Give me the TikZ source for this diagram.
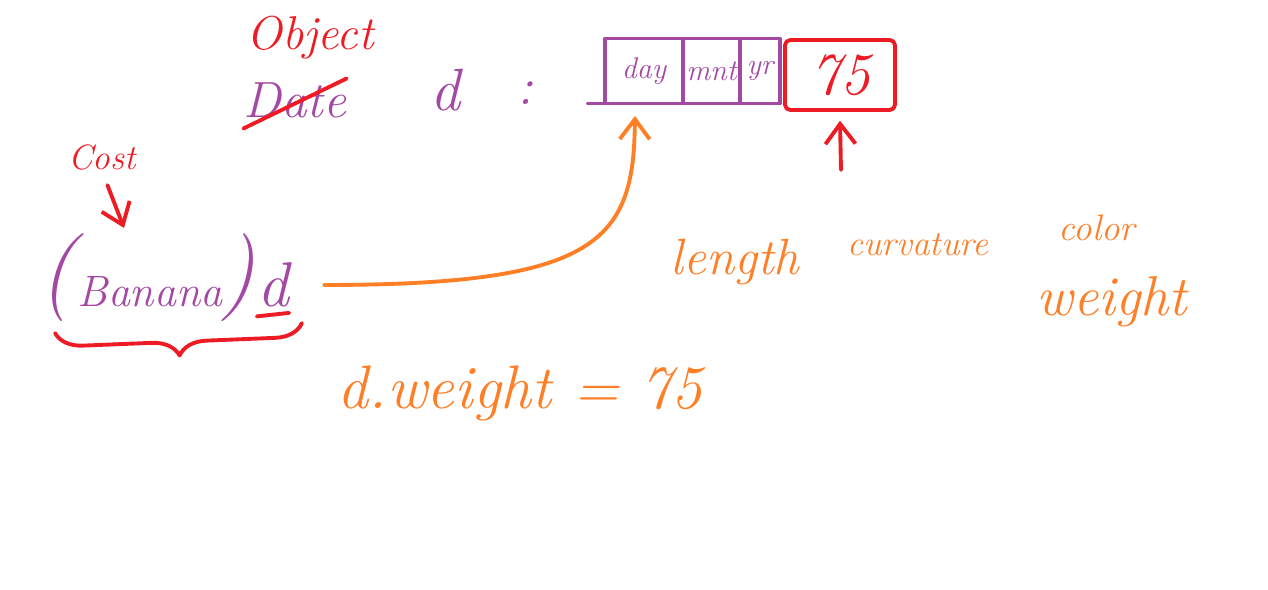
\documentclass[tikz,border=0pt]{standalone}
\usepackage{fontspec}
\usetikzlibrary{arrows.meta,positioning,decorations.pathreplacing}
\definecolor{pur}{RGB}{163,73,164}
\definecolor{rd}{RGB}{237,28,36}
\definecolor{org}{RGB}{255,127,39}
\newcommand{\hw}[1]{\fontsize{#1}{#1}\selectfont\itshape}
\begin{document}
\begin{tikzpicture}[x=0.02cm,y=-0.02cm,
    pen/.style={line width=2.2pt,line cap=round,line join=round},
    txt/.style={inner sep=0pt},
    cell/.style={draw=pur,pen,inner sep=0pt,outer sep=0pt,minimum height=1.3cm,font=\hw{17},text=pur},
    barb/.style={-{Straight Barb[length=4mm,width=6mm]}}]
\useasboundingbox (0,0) rectangle (1268,590);
            \node[txt,text=rd,font=\hw{27}] (v0) at (310,38) {Object};
            \node[txt,text=pur,font=\hw{29}] (v1) at (295,100) {Date};
            \node[txt,text=pur,font=\hw{34}] (v2) at (445,90) {d};
            \node[txt,text=pur,font=\hw{30}] (v3) at (525,93) {:};
            \node[cell,minimum width=1.56cm] (v4) at (644,71) {day};
            \node[cell,minimum width=1.14cm,right=0pt of v4] (v5) {mnt};
            \node[cell,minimum width=0.8cm,right=0pt of v5] (v6) {yr};
            \node[draw=rd,pen,rounded corners=3pt,minimum width=2.2cm,minimum height=1.4cm,
                  text=rd,font=\hw{34}] (v7) at (840,75) {75};
            \node[txt,text=rd,font=\hw{20}] (v8) at (102,158) {Cost};
            \node[txt,text=pur,font=\hw{25}] (v9) at (150,292) {Banana};
            \node[txt,text=pur,font=\hw{50}] (v11) at (57,278) {(};
            \node[txt,text=pur,font=\hw{50}] (v12) at (238,278) {)};
            \node[txt,text=pur,font=\hw{36}] (v10) at (273,285) {d};
            \node[txt,text=org,font=\hw{29}] (v13) at (735,262) {length};
            \node[txt,text=org,font=\hw{20}] (v14) at (918,245) {curvature};
            \node[txt,text=org,font=\hw{21}] (v15) at (1097,228) {color};
            \node[txt,text=org,font=\hw{32}] (v16) at (1112,302) {weight};
            \node[txt,text=org,font=\hw{35}] (v17) at (520,393) {d.weight = 75};
            \coordinate (c0) at (841,170);
            \coordinate (c1) at (124,228);
            \draw[pen,rd] ([yshift=-6pt]v1.south west) -- ([yshift=2pt]v1.north east);
            \draw[pen,pur] (v4.south west) -- ++(-17,0);
            \draw[pen,rd,barb] (c0) -- ([yshift=-5pt]v7.south);
            \draw[pen,rd,barb,shorten <=0.3cm] (v8.south) -- (c1);
            \draw[pen,rd] ([yshift=-5pt]v10.south west) -- ([yshift=-3pt]v10.south east);
            \draw[pen,rd,decorate,decoration={brace,mirror,amplitude=0.55cm}] (55,333) -- (302,323);
            \draw[pen,org,barb,shorten <=0.7cm,shorten >=0.25cm] (v10.east) .. controls (600,285) and (634,240) .. ([xshift=-0.18cm]v4.south);
         \end{tikzpicture}
\end{document}
